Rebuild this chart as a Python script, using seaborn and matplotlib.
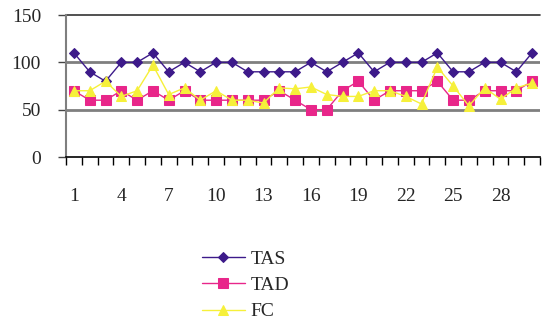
import matplotlib
matplotlib.use("Agg")
import matplotlib.pyplot as plt
import seaborn as sns
import pandas as pd
import numpy as np

days = list(range(1, 31))
tas = [110, 90, 80, 100, 100, 110, 90, 100, 90, 100, 100, 90, 90, 90, 90,
       100, 90, 100, 110, 90, 100, 100, 100, 110, 90, 90, 100, 100, 90, 110]
tad = [70, 60, 60, 70, 60, 70, 60, 70, 60, 60, 60, 60, 60, 70, 60,
       50, 50, 70, 80, 60, 70, 70, 70, 80, 60, 60, 70, 70, 70, 80]
fc = [70, 70, 80, 64, 70, 97, 66, 73, 60, 70, 60, 60, 57, 73, 72,
      74, 66, 64, 64, 70, 70, 64, 56, 95, 75, 54, 73, 61, 73, 78]
series_names = ["TAS", "TAD", "FC"]
xtick_labels = [1, 4, 7, 10, 13, 16, 19, 22, 25, 28]
ytick_values = [0, 50, 100, 150]

df = pd.DataFrame({"day": days * 3,
                   "value": tas + tad + fc,
                   "series": ["TAS"] * 30 + ["TAD"] * 30 + ["FC"] * 30})

sns.set_style("white")
plt.rcParams["font.family"] = ["Liberation Serif", "DejaVu Serif"]

fig = plt.figure(figsize=(5.44, 3.22), dpi=100)
ax = fig.add_axes([66 / 544, 1 - 157 / 322, 474 / 544, 142 / 322])

colors = {"TAS": "#3d1a8a", "TAD": "#e8268a", "FC": "#f6f03a"}
markers = {"TAS": "D", "TAD": "s", "FC": "^"}
msizes = {"TAS": 5.5, "TAD": 6.5, "FC": 7}

for name in series_names:
    sub = df[df["series"] == name]
    sns.lineplot(data=sub, x="day", y="value", ax=ax, color=colors[name],
                 marker=markers[name], markersize=msizes[name],
                 markeredgecolor=colors[name], linewidth=1, label=name,
                 zorder=3)

ax.set_xlim(0.5, 30.5)
ax.set_ylim(0, 150)
ax.set_yticks(ytick_values)
ax.set_yticklabels([str(v) for v in ytick_values], fontsize=14)
ax.set_xticks(xtick_labels)
ax.set_xticklabels([str(v) for v in xtick_labels], fontsize=14)
ax.set_xticks(np.arange(0.5, 31, 1), minor=True)
ax.tick_params(axis="x", which="both", bottom=True)
ax.tick_params(axis="y", which="both", left=True)
ax.tick_params(axis="x", which="major", length=0, pad=22)
ax.tick_params(axis="x", which="minor", length=6, direction="out",
               color="black", width=1)
ax.tick_params(axis="y", which="major", length=6, direction="out",
               color="#444444", width=1, pad=12)
ax.set_xlabel("")
ax.set_ylabel("")

for y in [50, 100]:
    ax.axhline(y, color="#7f7f7f", lw=2, zorder=1)
ax.axhline(150, color="#333333", lw=1.2, zorder=1, clip_on=False)

for s in ["top", "right"]:
    ax.spines[s].set_visible(False)
ax.spines["left"].set_color("#7f7f7f")
ax.spines["left"].set_linewidth(1.5)
ax.spines["bottom"].set_color("black")
ax.spines["bottom"].set_linewidth(1.2)

leg = ax.legend(loc="upper left", bbox_to_anchor=(202 / 544, 1 - 250 / 322),
                bbox_transform=fig.transFigure, frameon=False, fontsize=14,
                handlelength=2.2, handletextpad=0.3, labelspacing=0.45,
                borderaxespad=0, borderpad=0)

fig.savefig("out.png", dpi=100)
